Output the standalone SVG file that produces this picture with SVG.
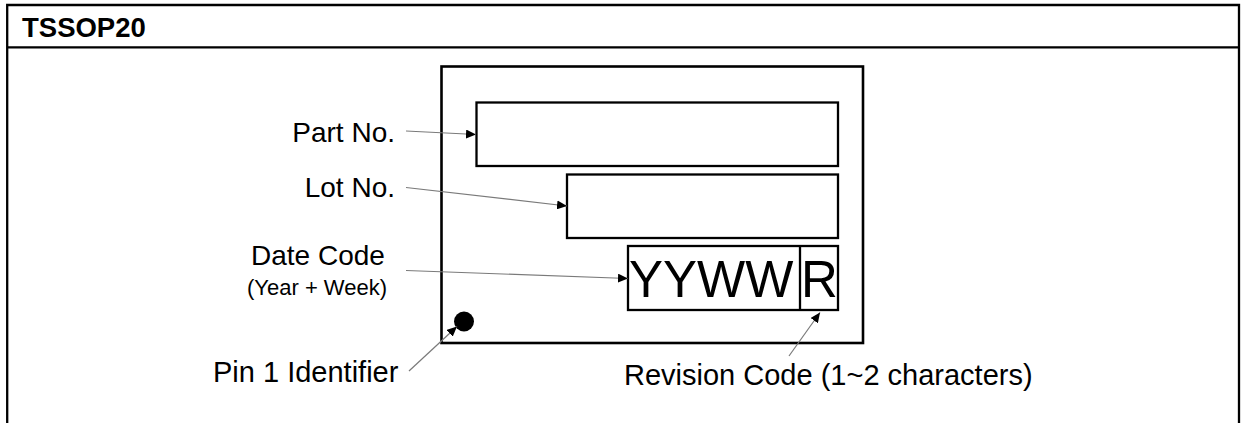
<svg xmlns="http://www.w3.org/2000/svg" width="1245" height="423" viewBox="0 0 1245 423">
<style>
.frame{fill:none;stroke:#000;stroke-width:2.3}
.box{fill:#fff;stroke:#000;stroke-width:2.3}
.lbl{font-family:"Liberation Sans",Arial,sans-serif;font-size:28px;fill:#000}
.conn{stroke:#7a7a7a;stroke-width:1.2;fill:none;marker-end:url(#ah)}
</style>
<defs>
<marker id="ah" markerUnits="userSpaceOnUse" markerWidth="11" markerHeight="9" refX="10" refY="4.5" orient="auto">
<path d="M0,0 L10,4.5 L0,9 z" fill="#000"/>
</marker>
</defs>
<rect width="1245" height="423" fill="#fff"/>
<g id="frame">
<path class="frame" d="M7.2,423 V5 H1239 V423 M7.2,47.3 H1239"/>
<text x="22" y="37" font-family="'Liberation Sans',Arial,sans-serif" font-size="27.5" font-weight="bold">TSSOP20</text>
</g>
<g id="package">
<rect x="441.5" y="66.5" width="421.5" height="276.5" fill="#fff" stroke="#000" stroke-width="2.6"/>
<circle cx="464" cy="321.5" r="10" fill="#000"/>
</g>
<g id="partno-box"><rect class="box" x="476.5" y="102.5" width="361.5" height="63.5"/></g>
<g id="lotno-box"><rect class="box" x="567" y="174.5" width="271" height="63.5"/></g>
<g id="datecode-box">
<rect class="box" x="628" y="246" width="210" height="64"/>
<line x1="800" y1="246" x2="800" y2="310" stroke="#000" stroke-width="2.3"/>
<text x="629" y="297" font-family="'Liberation Sans',Arial,sans-serif" font-size="51">YYWW</text>
<text x="801" y="297" font-family="'Liberation Sans',Arial,sans-serif" font-size="51">R</text>
</g>
<g id="labels">
<text class="lbl" x="395" y="142" text-anchor="end">Part No.</text>
<text class="lbl" x="395" y="197" text-anchor="end">Lot No.</text>
<text class="lbl" x="251" y="265">Date Code</text>
<text x="247" y="295" font-family="'Liberation Sans',Arial,sans-serif" font-size="22">(Year + Week)</text>
<text class="lbl" x="213" y="382" style="font-size:29px">Pin 1 Identifier</text>
<text class="lbl" x="624" y="385" style="font-size:29px">Revision Code (1~2 characters)</text>
</g>
<g id="connectors">
<line class="conn" x1="406" y1="131" x2="476" y2="134.5"/>
<line class="conn" x1="406" y1="187.5" x2="567" y2="206"/>
<line class="conn" x1="406" y1="270.5" x2="628" y2="278.5"/>
<line class="conn" x1="409" y1="371" x2="457" y2="326.5"/>
<line class="conn" x1="789" y1="356" x2="820" y2="312.5"/>
</g>
</svg>
